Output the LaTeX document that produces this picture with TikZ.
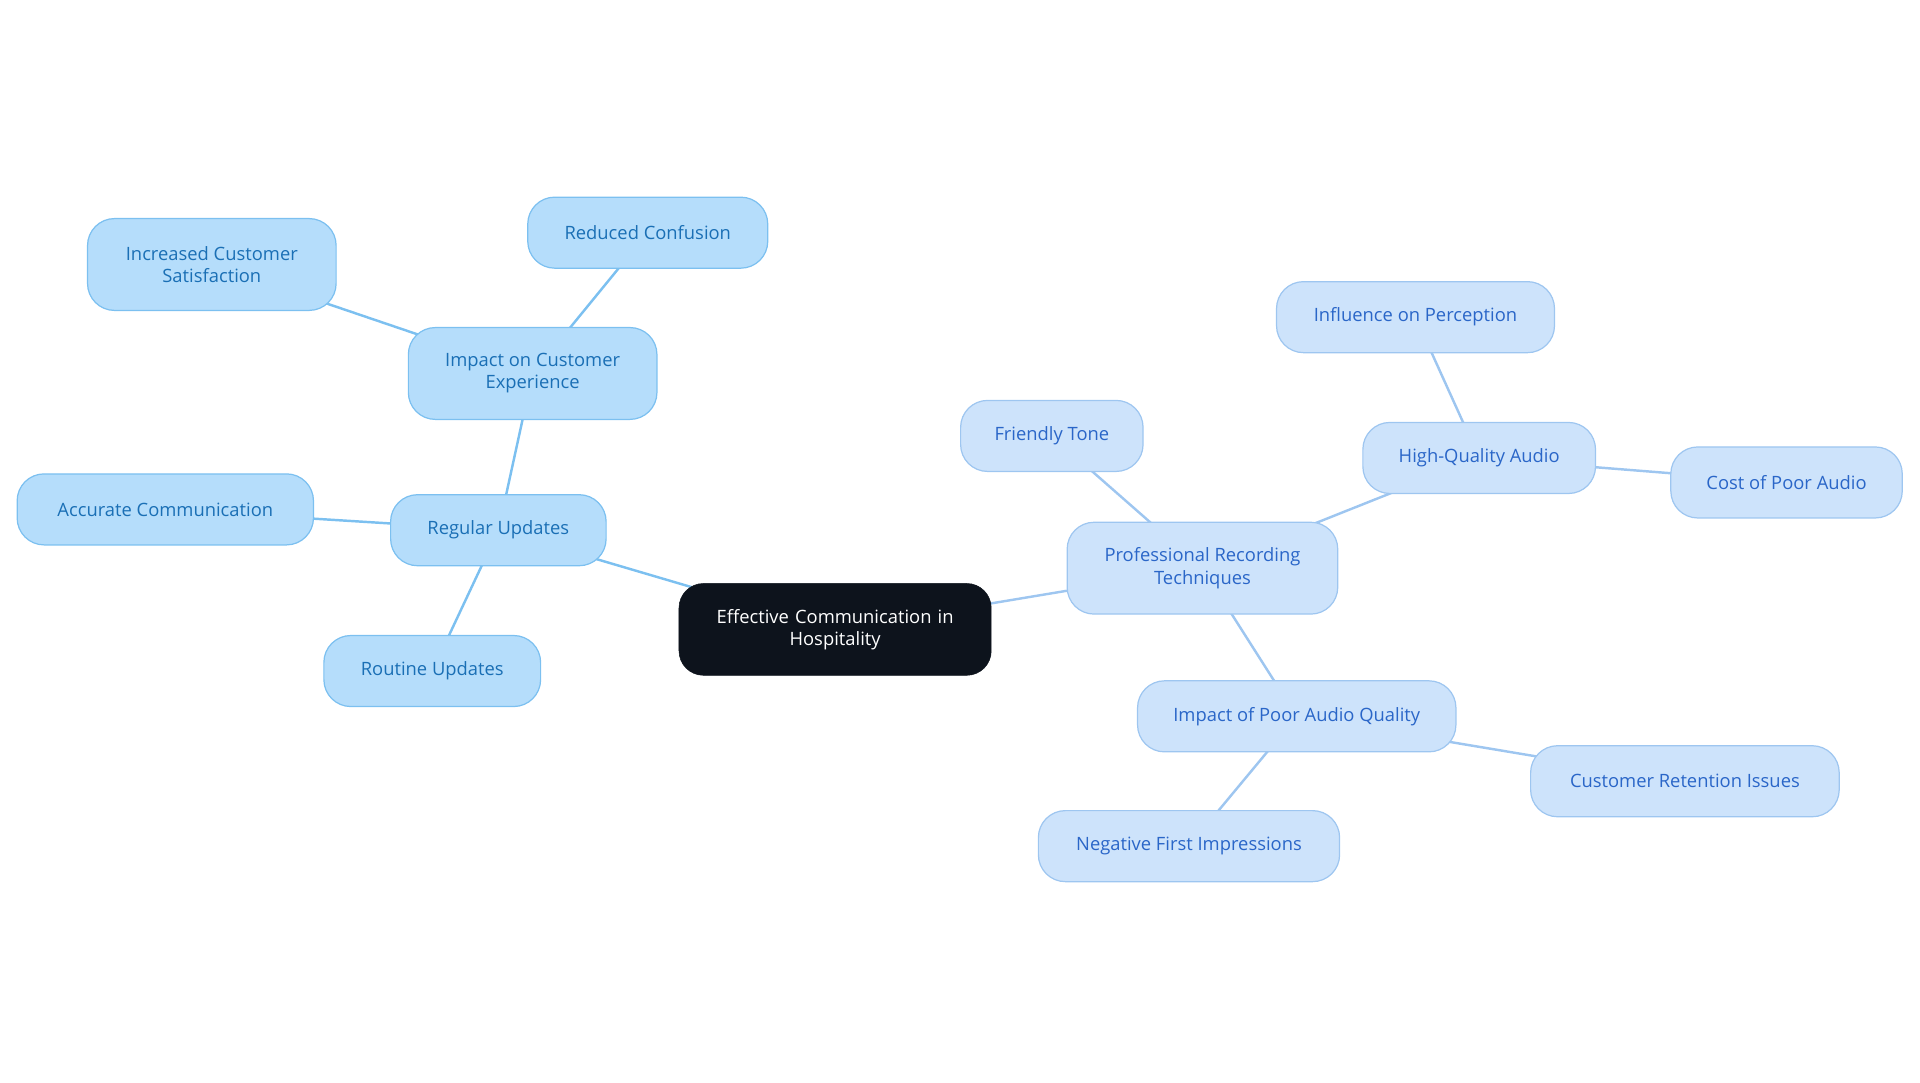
\documentclass[tikz,border=0pt]{standalone}
\usepackage{fontspec}
\setmainfont{Open Sans}
\usetikzlibrary{backgrounds}
\definecolor{rootfill}{HTML}{0D131C}
\definecolor{leftfill}{HTML}{B5DDFB}
\definecolor{leftline}{HTML}{7CC0F0}
\definecolor{lefttext}{HTML}{1A6FB5}
\definecolor{rightfill}{HTML}{CDE3FB}
\definecolor{rightline}{HTML}{9EC6F0}
\definecolor{righttext}{HTML}{2A66C8}
\tikzset{rootnode/.style={
    % The shape:
    rectangle, rounded corners=20pt,
    minimum width=255pt, minimum height=75pt,
    fill=rootfill, draw=rootfill,
    text=white, align=center, text width=230pt,
    font=\fontsize{15}{18}\selectfont
    },
    leftnode/.style={
    rectangle, rounded corners=22pt,
    minimum height=58pt,
    fill=leftfill, draw=leftline, line width=1pt,
    text=lefttext, align=center,
    font=\fontsize{15}{18}\selectfont
    },
    rightnode/.style={
    rectangle, rounded corners=22pt,
    minimum height=58pt,
    fill=rightfill, draw=rightline, line width=1pt,
    text=righttext, align=center,
    font=\fontsize{15}{18}\selectfont
    },
    leftlink/.style={draw=leftline, line width=2pt},
    rightlink/.style={draw=rightline, line width=2pt},
}

\begin{document}
\begin{tikzpicture}[x=1pt,y=-1pt]
    \useasboundingbox (0,0) rectangle (1568,884);
    \node (root)    [rootnode]                                            at (682,514) {Effective Communication in\\Hospitality};

    \node (regular) [leftnode,minimum width=176pt]                        at (407,433) {Regular Updates};
    \node (impact)  [leftnode,minimum width=203pt,minimum height=75pt]    at (435,305) {Impact on Customer\\Experience};
    \node (satisf)  [leftnode,minimum width=203pt,minimum height=75pt]    at (173,216) {Increased Customer\\Satisfaction};
    \node (confus)  [leftnode,minimum width=196pt]                        at (529,190) {Reduced Confusion};
    \node (accur)   [leftnode,minimum width=242pt]                        at (135,416) {Accurate Communication};
    \node (routine) [leftnode,minimum width=177pt]                        at (353,548) {Routine Updates};

    \node (record)  [rightnode,minimum width=221pt,minimum height=75pt]   at (982,464) {Professional Recording\\Techniques};
    \node (tone)    [rightnode,minimum width=149pt]                       at (859,356) {Friendly Tone};
    \node (hiaudio) [rightnode,minimum width=190pt]                       at (1208,374) {High-Quality Audio};
    \node (percep)  [rightnode,minimum width=227pt]                       at (1156,259) {Influence on Perception};
    \node (cost)    [rightnode,minimum width=189pt]                       at (1459,394) {Cost of Poor Audio};
    \node (poor)    [rightnode,minimum width=260pt]                       at (1059,585) {Impact of Poor Audio Quality};
    \node (retent)  [rightnode,minimum width=252pt]                       at (1376,638) {Customer Retention Issues};
    \node (negat)   [rightnode,minimum width=246pt]                       at (971,691) {Negative First Impressions};

    \begin{pgfonlayer}{background}
    \foreach \a/\b in {root/regular,regular/impact,impact/satisf,impact/confus,regular/accur,regular/routine}
        \draw[leftlink] (\a.center) -- (\b.center);
    \foreach \a/\b in {root/record,record/tone,record/hiaudio,hiaudio/percep,hiaudio/cost,record/poor,poor/retent,poor/negat}
        \draw[rightlink] (\a.center) -- (\b.center);
    \end{pgfonlayer}
\end{tikzpicture}
\end{document}
